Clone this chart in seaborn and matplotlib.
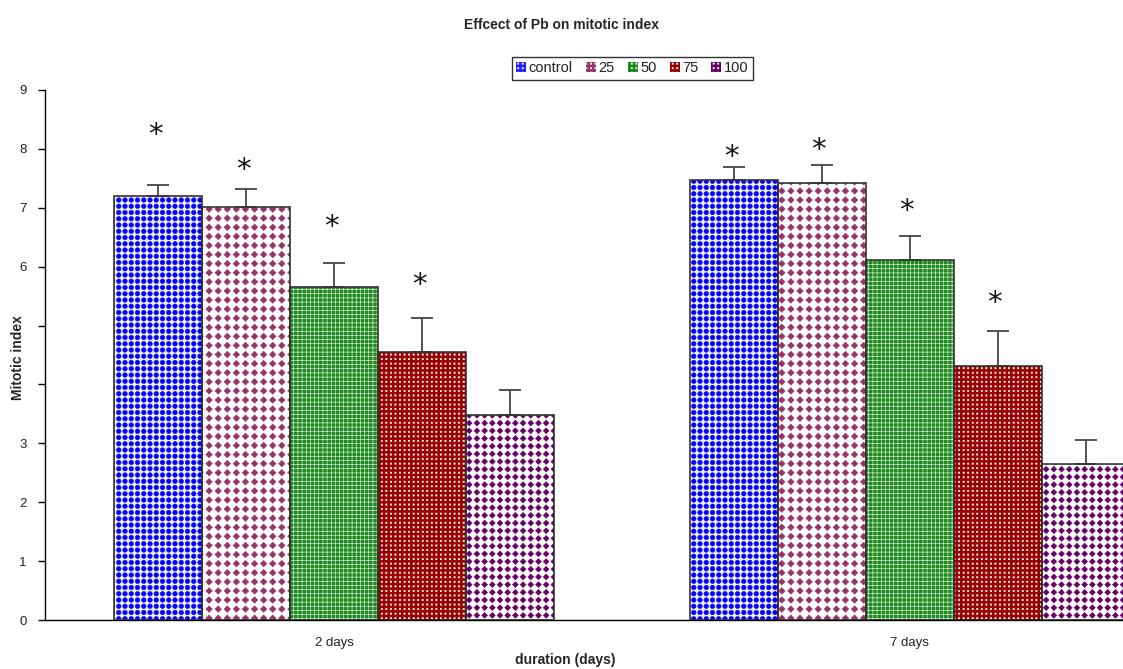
import warnings
warnings.filterwarnings("ignore")
import re
import numpy as np
import matplotlib
matplotlib.use("Agg")
import matplotlib.pyplot as plt
import matplotlib.patches as mpatches
from matplotlib import hatch as mhatch
from matplotlib.path import Path
import seaborn as sns
import pandas as pd

# ---- data ----
durations = ["2 days", "7 days"]
doses = ["control", "25", "50", "75", "100"]
mitotic_2d = [7.20, 7.01, 5.65, 4.55, 3.48]
mitotic_7d = [7.47, 7.42, 6.11, 4.31, 2.65]
err_2d = [0.19, 0.31, 0.41, 0.58, 0.42]
err_7d = [0.22, 0.31, 0.41, 0.60, 0.41]
star_2d = [8.32, 7.72, 6.76, 5.77, None]
star_7d = [7.95, 8.06, 7.03, 5.47, None]
y_ticks = [0, 1, 2, 3, 4, 5, 6, 7, 8, 9]
y_ticklabels = ["0", "1", "2", "3", "", "", "6", "7", "8", "9"]

rows = []
for d, vals in zip(durations, [mitotic_2d, mitotic_7d]):
    for dose, v in zip(doses, vals):
        rows.append({"duration": d, "dose": dose, "value": v})
df = pd.DataFrame(rows)
errs = {"2 days": err_2d, "7 days": err_7d}
stars = {"2 days": star_2d, "7 days": star_7d}


# ---- custom fill patterns (aligned grids of filled shapes) ----
class GridShapes(mhatch.HatchPatternBase):
    """Pattern spec: '<D|C|Q><rows>:<size%>'  D=diamond, C=circle, Q=square."""
    def __init__(self, hatch, density):
        m = re.search(r"([DCQ])(\d+):(\d+)", hatch or "")
        self.num_vertices = 0
        if not m:
            return
        self.kind = m.group(1)
        self.rows = int(m.group(2))
        self.size = int(m.group(3)) / 100.0
        if self.kind == "D":
            shp = np.array([[0, -1], [1, 0], [0, 1], [-1, 0], [0, -1]], float)
            cds = [Path.MOVETO] + [Path.LINETO] * 3 + [Path.CLOSEPOLY]
        elif self.kind == "Q":
            shp = np.array([[-1, -1], [1, -1], [1, 1], [-1, 1], [-1, -1]], float)
            cds = [Path.MOVETO] + [Path.LINETO] * 3 + [Path.CLOSEPOLY]
        else:
            c = Path.unit_circle()
            shp = c.vertices.copy()
            cds = list(c.codes)
        self.shp = shp
        self.cds = np.array(cds, dtype=Path.code_type)
        self.num_vertices = (self.rows + 1) ** 2 * len(shp)

    def set_vertices_and_codes(self, vertices, codes):
        r = self.rows
        half = self.size / r
        n = len(self.shp)
        k = 0
        for i in range(r + 1):
            for j in range(r + 1):
                vertices[k:k + n] = self.shp * half + np.array([j / r, i / r])
                codes[k:k + n] = self.cds
                k += n


mhatch._hatch_types.append(GridShapes)

# styles
face = {"control": "#f0f0ff", "25": "white", "50": "#1a8a1a", "75": "#9a0000", "100": "white"}
hcol = {"control": "#0000ff", "25": "#993366", "50": "white", "75": "white", "100": "#660066"}
hatches = {"control": "C16:36", "25": "D11:36", "50": "++++", "75": "Q22:14", "100": "D13:38"}
legend_face = {"control": "#2020ff", "25": "#993366", "50": "#1a8a1a", "75": "#9a0000", "100": "#660066"}

sns.set_style("white")
plt.rcParams["font.family"] = ["Liberation Sans", "DejaVu Sans"]
plt.rcParams["hatch.linewidth"] = 0.4

fig = plt.figure(figsize=(11.23, 6.69), dpi=100)
ax = fig.add_axes([0.040, 0.0732, 0.96, 0.7923])

sns.barplot(data=df, x="duration", y="value", hue="dose", order=durations,
            hue_order=doses, palette=legend_face, width=0.764, gap=0, saturation=1,
            ax=ax, legend=False, errorbar=None)
n_fill = len(ax.containers)
for dose, cont in zip(doses, ax.containers):
    for p in cont:
        p.set_facecolor(face[dose])
        p.set_edgecolor(hcol[dose])
        p.set_hatch(hatches[dose])
        p.set_linewidth(0)

sns.barplot(data=df, x="duration", y="value", hue="dose", order=durations,
            hue_order=doses, width=0.764, gap=0, fill=False,
            ax=ax, legend=False, errorbar=None)
for cont in ax.containers[n_fill:]:
    for p in cont:
        p.set_edgecolor("#333333")
        p.set_linewidth(1.2)
        p.set_hatch(None)
        p.set_zorder(3)

# error bars and stars
star_shift = matplotlib.transforms.offset_copy(ax.transData, fig=fig, x=-3, y=-5, units="dots")
for dose_i, cont in enumerate(ax.containers[:n_fill]):
    for cat_i, p in enumerate(cont):
        dur = durations[cat_i]
        xc = p.get_x() + p.get_width() / 2
        h = p.get_height()
        e = errs[dur][dose_i]
        ax.errorbar([xc], [h], yerr=[[0], [e]], fmt="none", ecolor="#444444",
                    elinewidth=1.3, capsize=8, capthick=1.3, zorder=1)
        s = stars[dur][dose_i]
        if s is not None:
            ax.text(xc, s, "*", ha="center", va="center", transform=star_shift,
                    fontsize=21, color="#111111", family="DejaVu Sans")

ax.set_yticks(y_ticks)
ax.set_yticklabels(y_ticklabels)
ax.set_xticks([0, 1])
ax.set_xticklabels(durations)
ax.set_xticks([0.5, 1.5], minor=True)
ax.set_ylim(0, 9)
ax.set_xlim(-0.502, 1.37)
ax.tick_params(axis="x", which="major", length=0, labelsize=9.5, pad=12, colors="#222222")
ax.tick_params(axis="x", which="minor", length=5, direction="out", color="black", width=1)
ax.tick_params(axis="y", length=5, direction="out", left=True, labelsize=9.5, pad=8,
               color="black", width=1)
ax.tick_params(axis="y", labelcolor="#222222")
for s in ["top", "right"]:
    ax.spines[s].set_visible(False)
for s in ["left", "bottom"]:
    ax.spines[s].set_color("black")
    ax.spines[s].set_linewidth(1)
ax.set_xlabel("")
ax.set_ylabel("")

fig.text(0.5, 0.962, "Effcect of Pb on mitotic index", ha="center", va="center",
         fontsize=10, fontweight="bold")
fig.text(0.503, 0.013, "duration (days)", ha="center", va="center",
         fontsize=10, fontweight="bold")
fig.text(0.016, 0.466, "Mitotic index", ha="center", va="center", rotation=90,
         fontsize=10, fontweight="bold")

handles = [mpatches.Patch(facecolor=legend_face[d], edgecolor="white", hatch="Q22:14",
                          linewidth=0, label=d) for d in doses]
leg = fig.legend(handles=handles, loc="center", bbox_to_anchor=(0.563, 0.898), ncol=5,
                 frameon=True, fancybox=False, fontsize=10.5, handlelength=0.7,
                 handleheight=0.7, handletextpad=0.15, columnspacing=0.9,
                 borderpad=0.3, edgecolor="black")
leg.get_frame().set_linewidth(1)
for t in leg.get_texts():
    t.set_color("#222222")

fig.savefig("out.png", dpi=100)
